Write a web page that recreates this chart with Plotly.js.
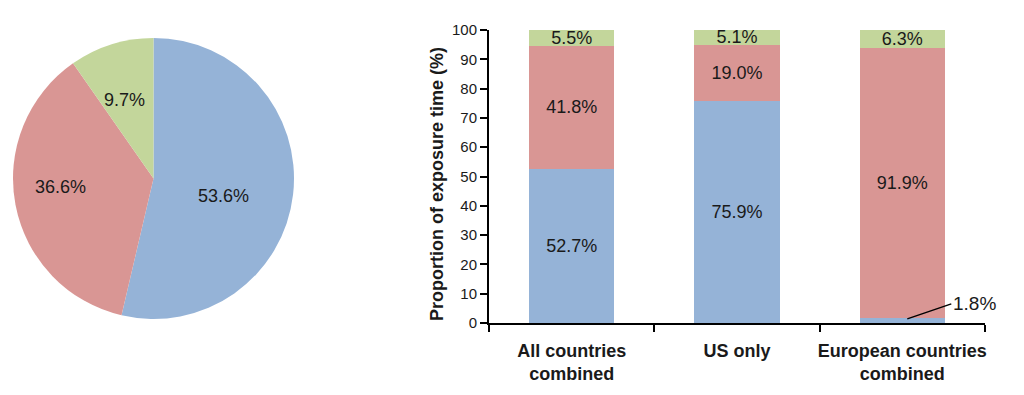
<!DOCTYPE html>
<html>
<head>
<meta charset="utf-8">
<script src="https://cdn.plot.ly/plotly-3.0.1.min.js"></script>
<style>html,body{margin:0;padding:0;background:#fff;}#chart{width:1024px;height:395px;}</style>
</head>
<body>
<div id="chart"></div>
<script>
// Pie data
const pieValues = [53.6, 36.6, 9.7];
const pieLabels = ['53.6%', '36.6%', '9.7%'];

// Stacked bar data
const categories = ['All countries<br>combined', 'US only', 'European countries<br>combined'];
const blueValues = [52.7, 75.9, 1.8];
const redValues = [41.8, 19.0, 91.9];
const greenValues = [5.5, 5.1, 6.3];
const yTickVals = [0, 10, 20, 30, 40, 50, 60, 70, 80, 90, 100];
const yTitle = 'Proportion of exposure time (%)';

const colors = ['#95B3D7', '#D99694', '#C3D69B'];
const FONT = '"Liberation Sans", Arial, sans-serif';
const txtColor = '#1a1a1a';

const fmt = v => v.toFixed(1) + '%';

// pie geometry (paper fractions)
const pieDomX = [13/1024, 294/1024];
const pieDomY = [1 - 319/395, 1 - 38/395];
const pieLabelRadius = [0.516, 0.665, 0.594]; // fraction of radius where each label sits
const pieLabelTurn = [7, 5.7, -3];            // degrees off the slice's mid-angle

const pie = {
  type: 'pie',
  values: pieValues,
  textinfo: 'none',
  sort: false,
  direction: 'clockwise',
  rotation: 0,
  marker: {colors: colors, line: {color: '#ffffff', width: 0}},
  domain: {x: pieDomX, y: pieDomY},
  hoverinfo: 'none',
  showlegend: false
};

function barTrace(vals, color, hideSmall) {
  return {
    type: 'bar',
    x: categories,
    y: vals,
    text: vals.map(v => (hideSmall && v < 3) ? '' : fmt(v)),
    textposition: 'inside',
    insidetextanchor: 'middle',
    constraintext: 'none',
    textfont: {family: FONT, size: 18, color: txtColor},
    marker: {color: color, line: {width: 0}},
    xaxis: 'x', yaxis: 'y',
    hoverinfo: 'none',
    showlegend: false,
    cliponaxis: false
  };
}

const data = [
  pie,
  barTrace(blueValues, colors[0], true),
  barTrace(redValues, colors[1], false),
  barTrace(greenValues, colors[2], false)
];

// pie labels placed along each slice's mid-angle
const W = 1024, H = 395;
const cx = (pieDomX[0] + pieDomX[1]) / 2 * W;
const cy = (1 - (pieDomY[0] + pieDomY[1]) / 2) * H;
const R = Math.min((pieDomX[1] - pieDomX[0]) * W, (pieDomY[1] - pieDomY[0]) * H) / 2;
const total = pieValues.reduce((a, b) => a + b, 0);
let cum = 0;
const pieAnnotations = pieValues.map((v, i) => {
  const mid = (cum + v / 2) / total * 2 * Math.PI + pieLabelTurn[i] * Math.PI / 180;
  cum += v;
  const px = cx + Math.sin(mid) * R * pieLabelRadius[i];
  const py = cy - Math.cos(mid) * R * pieLabelRadius[i];
  return {
    xref: 'paper', yref: 'paper',
    x: px / W, y: 1 - py / H,
    xanchor: 'center', yanchor: 'middle',
    text: pieLabels[i], showarrow: false,
    font: {family: FONT, size: 18, color: txtColor}
  };
});

const layout = {
  width: W,
  height: H,
  margin: {l: 0, r: 0, t: 0, b: 0},
  paper_bgcolor: '#ffffff',
  plot_bgcolor: '#ffffff',
  barmode: 'stack',
  bargap: 0.485,
  font: {family: FONT, color: txtColor},
  xaxis: {
    domain: [489/1024, 985/1024],
    range: [-0.5, categories.length - 0.5],
    showline: true, linecolor: '#000', linewidth: 2,
    ticks: 'outside', tickson: 'boundaries', ticklen: 7, tickwidth: 2, tickcolor: '#000',
    tickangle: 0, ticklabelstandoff: 10,
    tickfont: {family: FONT, size: 18, color: txtColor, weight: 'bold'},
    showgrid: false, zeroline: false, fixedrange: true
  },
  yaxis: {
    domain: [1 - 323/395, 1 - 30/395],
    range: [0, 100],
    tickvals: yTickVals,
    showline: true, linecolor: '#000', linewidth: 2,
    ticks: 'outside', ticklen: 7, tickwidth: 2, tickcolor: '#000',
    tickfont: {family: FONT, size: 15, color: txtColor},
    showgrid: false, zeroline: false, fixedrange: true
  },
  annotations: pieAnnotations.concat([{
    xref: 'paper', yref: 'paper',
    x: 437 / W, y: 1 - 184 / H,
    xanchor: 'center', yanchor: 'middle',
    textangle: -90, showarrow: false,
    text: yTitle,
    font: {family: FONT, size: 18, color: txtColor, weight: 'bold'}
  }, {
    xref: 'x', yref: 'y',
    x: 2.03, y: 1.4,
    text: fmt(blueValues[2]),
    showarrow: true, arrowhead: 0, arrowwidth: 1.5, arrowcolor: '#000',
    ax: 44, ay: -15,
    xanchor: 'left',
    font: {family: FONT, size: 19, color: txtColor}
  }])
};

Plotly.newPlot('chart', data, layout, {staticPlot: true});
</script>
</body>
</html>
